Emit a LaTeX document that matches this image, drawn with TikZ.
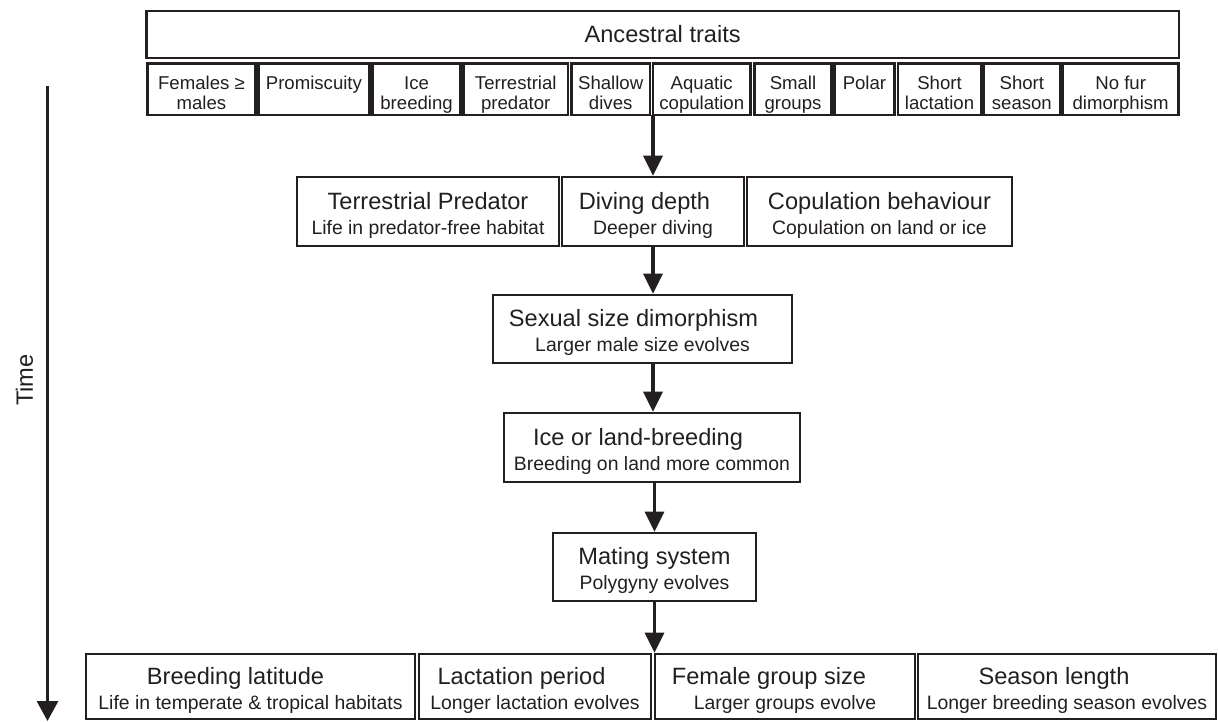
\documentclass[tikz,border=0pt]{standalone}
\usepackage{fontspec}
\setmainfont{Liberation Sans}
\usepackage{tikz}
\usetikzlibrary{arrows.meta, positioning}

\definecolor{ink}{RGB}{35,31,32}
\newcommand{\titlef}{\fontsize{23.6}{25}\selectfont}
\newcommand{\subf}{\fontsize{19.4}{25}\selectfont}
\newcommand{\traitf}{\fontsize{18.6}{20}\selectfont}
% title line, subtitle line, shift of the title to the left
\newcommand{\twoline}[3]{\rule{0pt}{25pt}{\titlef #1}\hspace*{#3}\\{\subf #2}\rule[-5pt]{0pt}{5pt}}
\newcommand{\trait}[2]{\rule{0pt}{24.5pt}#1\\#2\rule[-5pt]{0pt}{5pt}}

\begin{document}
\begin{tikzpicture}[x=1pt, y=-1pt,
    box/.style={draw=ink, line width=2.6pt, inner sep=0pt, align=center, text=ink, font=\subf},
    trait/.style={box, font=\traitf, minimum height=51.5pt},
    flow/.style={draw=ink, line width=3.2pt, -{Triangle[length=20pt, width=19pt]}}]

        \useasboundingbox (0,0) rectangle (1218,721);

        % Ancestral traits
        \node[box, font=\titlef, minimum width=1032.5pt, minimum height=47pt] (anc) at (662.65, 34.5) {Ancestral traits};

        \node[trait, minimum width=107.9pt] (fem) at (201.45, 89.25) {\trait{Females ≥}{males}};
        \node[trait, minimum width=111.4pt] (prom) at (313.9, 89.25) {\trait{Promiscuity}{}};
        \node[trait, minimum width=88.2pt] (icebr) at (416.6, 89.25) {\trait{Ice}{breeding}};
        \node[trait, minimum width=104.3pt] (terrpred) at (515.75, 89.25) {\trait{Terrestrial}{predator}};
        \node[trait, minimum width=78.6pt] (shallow) at (610.7, 89.25) {\trait{Shallow}{dives}};
        \node[trait, minimum width=97.7pt] (aqua) at (701.75, 89.25) {\trait{Aquatic}{copulation}};
        \node[trait, minimum width=77.4pt] (small) at (793, 89.25) {\trait{Small}{groups}};
        \node[trait, minimum width=59.7pt] (polar) at (864.45, 89.25) {\trait{Polar}{}};
        \node[trait, minimum width=83pt] (shlact) at (939.5, 89.25) {\trait{Short}{lactation}};
        \node[trait, minimum width=76.7pt] (shseas) at (1021.85, 89.25) {\trait{Short}{season}};
        \node[trait, minimum width=115.1pt] (nofur) at (1120.65, 89.25) {\trait{No fur}{dimorphism}};

        % first changes
        \node[box, minimum width=262pt, minimum height=69pt] (terr) at (428, 211.5) {\twoline{Terrestrial Predator}{Life in predator-free habitat}{0pt}};
        \node[box, minimum width=182pt, minimum height=69pt] (dive) at (653, 211.5) {\twoline{Diving depth}{Deeper diving}{17pt}};
        \node[box, minimum width=265pt, minimum height=69pt] (copu) at (879.5, 211.5) {\twoline{Copulation behaviour}{Copulation on land or ice}{0pt}};

        \node[box, minimum width=299pt, minimum height=68pt] (ssd) at (642.5, 329) {\twoline{Sexual size dimorphism}{Larger male size evolves}{18pt}};
        \node[box, minimum width=296pt, minimum height=69pt] (ice) at (652, 447.5) {\twoline{Ice or land-breeding}{Breeding on land more common}{28pt}};
        \node[box, minimum width=203pt, minimum height=68pt] (mate) at (654.5, 567) {\twoline{Mating system}{Polygyny evolves}{0pt}};

        % last changes
        \node[box, minimum width=329pt, minimum height=65pt] (lat) at (250.5, 686.5) {\twoline{Breeding latitude}{Life in temperate \& tropical habitats}{30pt}};
        \node[box, minimum width=232pt, minimum height=65pt] (lact) at (535, 686.5) {\twoline{Lactation period}{Longer lactation evolves}{27pt}};
        \node[box, minimum width=260pt, minimum height=65pt] (group) at (785, 686.5) {\twoline{Female group size}{Larger groups evolve}{32pt}};
        \node[box, minimum width=298pt, minimum height=65pt] (season) at (1067, 686.5) {\twoline{Season length}{Longer breeding season evolves}{26pt}};

        % Pfeile
        \coordinate (split) at (653, 115); % between Shallow dives and Aquatic copulation
        \draw[flow] (split) -- (dive.north);
        \draw[flow] (dive.south) -- (dive.south |- ssd.north);
        \draw[flow] (dive.south |- ssd.south) -- (dive.south |- ice.north);
        \draw[flow] (mate.north |- ice.south) -- (mate.north);
        \draw[flow] (mate.south) -- (mate.south |- lact.north);

        % time axis
        \coordinate (tstart) at (47.5, 86);
        \coordinate (tend) at (47.5, 721);
        \draw[flow, -{Triangle[length=20pt, width=21pt]}] (tstart) -- (tend);
        \node[rotate=90, font=\titlef, text=ink] (time) at (24.5, 380) {Time};

\end{tikzpicture}
\end{document}
